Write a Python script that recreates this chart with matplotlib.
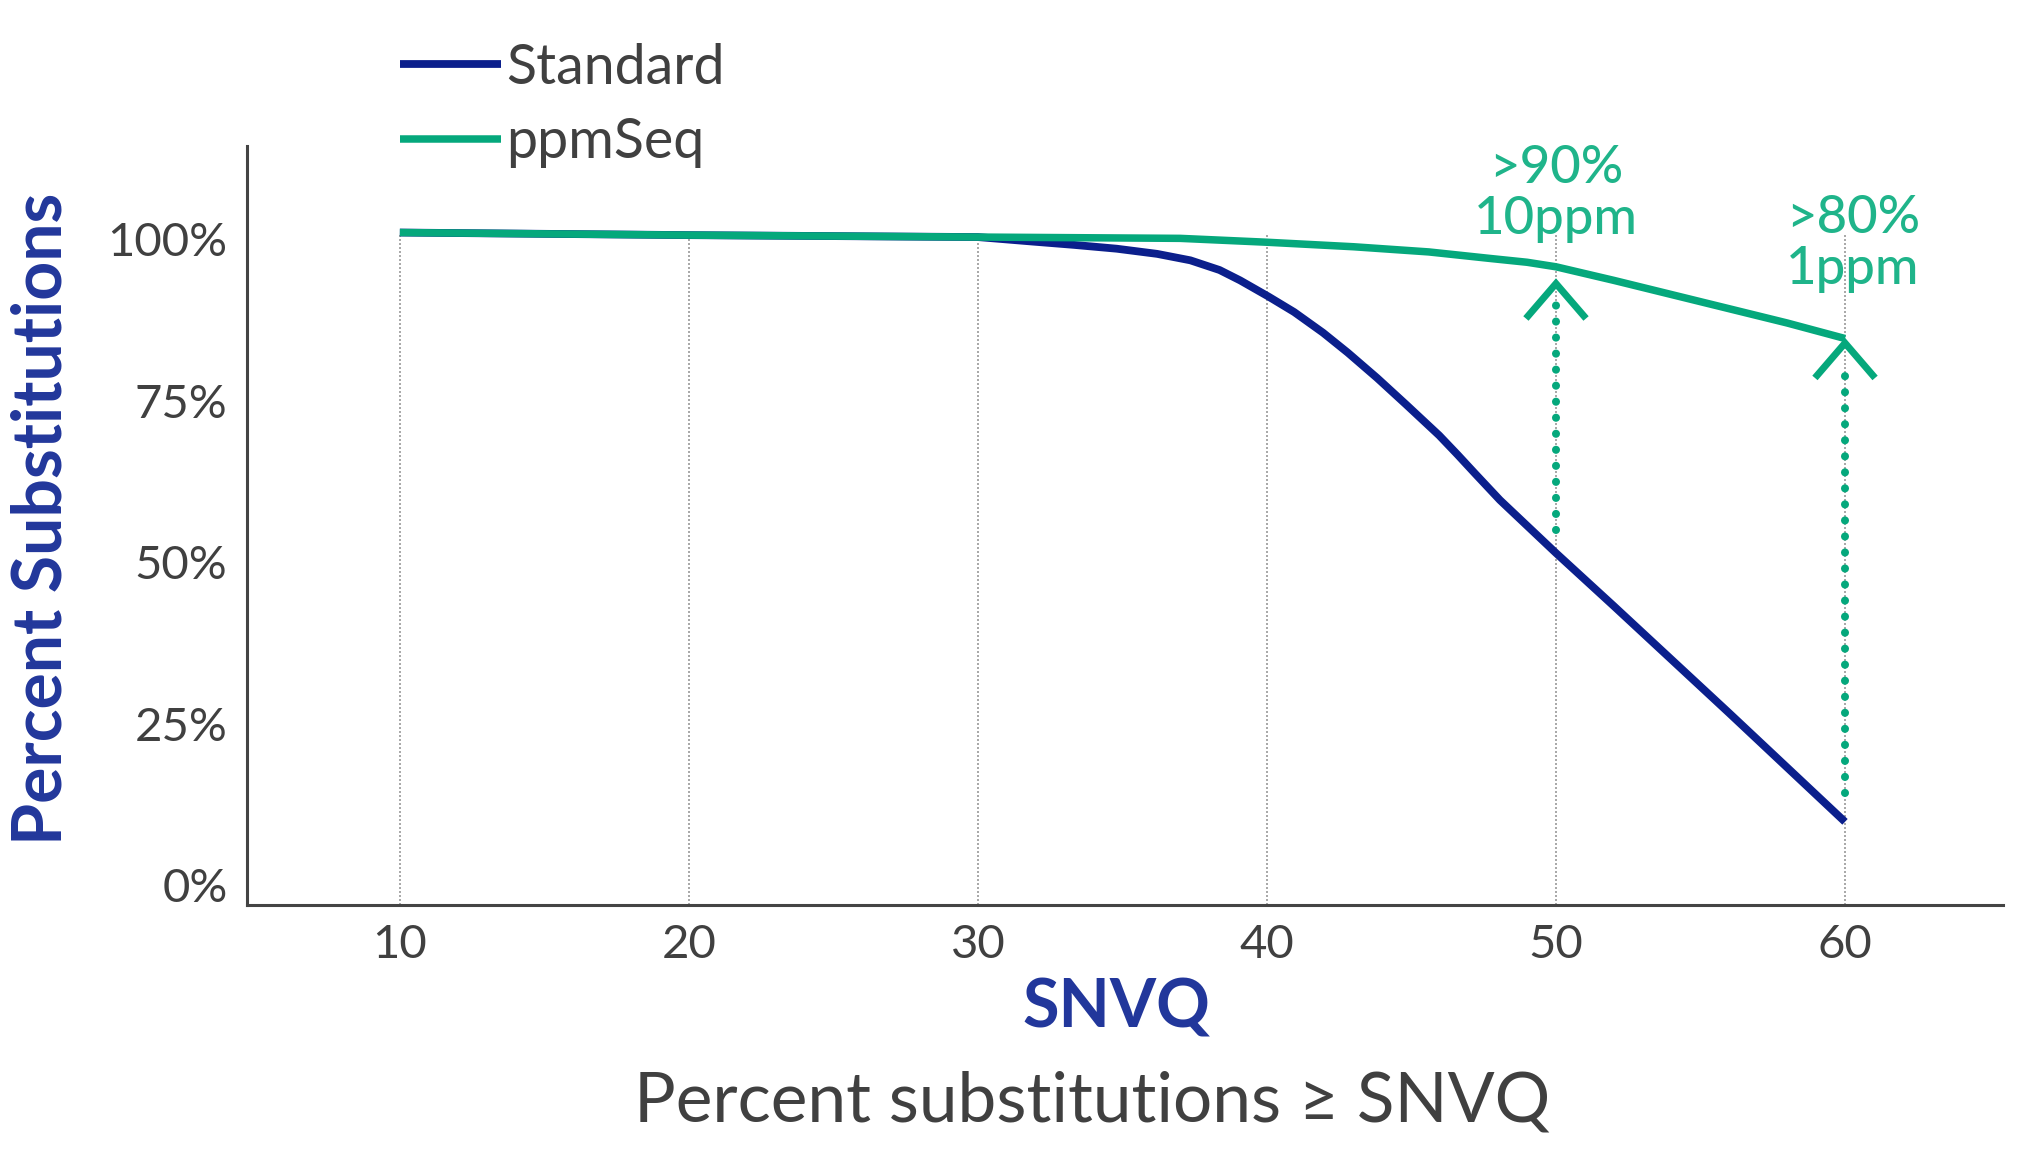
import matplotlib
matplotlib.use("Agg")
import matplotlib.pyplot as plt

plt.rcParams['font.family'] = ['Lato', 'DejaVu Sans']

# ---- data ----
snvq_std = [10, 20, 30, 31.9, 33.3, 34.8, 36.2, 37.35, 38.36, 39.07, 40.05, 40.94, 41.94,
            42.8, 43.81, 44.81, 45.96, 46.6, 47.2, 48.06, 50, 52, 54, 56, 58, 60]
pct_std = [101.0, 100.6, 100.3, 99.6, 99.1, 98.5, 97.7, 96.7, 95.2, 93.6, 91.1, 88.7, 85.5,
           82.4, 78.5, 74.4, 69.6, 66.6, 63.7, 59.6, 51.4, 43.2, 34.9, 26.6, 18.2, 9.8]

snvq_ppm = [10, 20, 30, 37, 40, 43, 45.6, 47.7, 49, 50, 52, 54, 56, 58, 60]
pct_ppm = [101.0, 100.6, 100.3, 100.1, 99.5, 98.8, 98.0, 97.0, 96.4, 95.7, 93.6, 91.4, 89.2, 87.0, 84.6]

x_ticks = [10, 20, 30, 40, 50, 60]
y_ticks = [0, 25, 50, 75, 100]
y_tick_labels = ['0%', '25%', '50%', '75%', '100%']

series_names = ['Standard', 'ppmSeq']

arrow_x = [50, 60]
arrow_tip = [93.1, 83.9]
arrow_bottom = [55.0, 14.2]
arrow_texts = ['>90%\n10ppm', '>80%\n1ppm']
arrow_text_x = [50.0, 60.27]
arrow_text_y = [107.0, 99.2]

# ---- style ----
BLUE = '#0b1f8c'
GREEN = '#05a87c'
GREEN_TXT = '#1fb48a'
LABEL_BLUE = '#22379b'
GRAY = '#404040'

fig = plt.figure(figsize=(20.26, 11.52), dpi=100)
ax = fig.add_axes([0.1219, 0.2148, 0.8668, 0.6585])
ax.set_xlim(4.71, 65.47)
ax.set_ylim(-3.0, 114.4)

for s in ['top', 'right']:
    ax.spines[s].set_visible(False)
for s in ['left', 'bottom']:
    ax.spines[s].set_color('#444444')
    ax.spines[s].set_linewidth(2.2)

# vertical gridlines
ax.vlines(x_ticks, -3.0, 100.8, colors='#9a9a9a', linestyles=(0, (1.2, 1.2)), linewidth=1.2, zorder=1)

l_std, = ax.plot(snvq_std, pct_std, color=BLUE, lw=5.6, solid_capstyle='butt',
                 solid_joinstyle='round', zorder=3, label=series_names[0])
l_ppm, = ax.plot(snvq_ppm, pct_ppm, color=GREEN, lw=5.4, solid_capstyle='butt',
                 solid_joinstyle='round', zorder=4, label=series_names[1])

# arrows
half_w = 1.04
head_h = 5.4
for xa, tip, bot in zip(arrow_x, arrow_tip, arrow_bottom):
    ax.plot([xa, xa], [bot, tip - 2.8], color=GREEN, lw=5.8,
            linestyle=(0, (0.01, 1.98)), dash_capstyle='round', zorder=5)
    ax.plot([xa - half_w, xa, xa + half_w], [tip - head_h, tip, tip - head_h],
            color=GREEN, lw=5.0, solid_joinstyle='miter', solid_capstyle='butt', zorder=5)
for tx, ty, txt in zip(arrow_text_x, arrow_text_y, arrow_texts):
    ax.text(tx, ty, txt, ha='center', va='center', color=GREEN_TXT,
            fontsize=38, linespacing=1.1, fontweight='medium')

ax.set_xticks(x_ticks)
ax.set_xticklabels([str(t) for t in x_ticks])
ax.set_yticks(y_ticks)
ax.set_yticklabels(y_tick_labels)
ax.tick_params(axis='both', length=0, labelsize=34, colors=GRAY)
ax.tick_params(axis='x', pad=14)
ax.tick_params(axis='y', pad=14)

ax.set_ylabel('Percent Substitutions', fontsize=49, fontweight='bold', color=LABEL_BLUE)
ax.yaxis.label.set_va('center')
ax.yaxis.set_label_coords(-0.117, 0.508)
ax.set_xlabel('SNVQ', fontsize=48, fontweight='bold', color=LABEL_BLUE)
ax.xaxis.label.set_va('center')
ax.xaxis.set_label_coords(0.495, -0.1364)

fig.text(0.539, 0.0434, 'Percent substitutions \u2265 SNVQ', ha='center', va='center',
         fontsize=50, color=GRAY)

leg = ax.legend(handles=[l_std, l_ppm], loc='upper left', bbox_to_anchor=(0.1974, 0.963),
                bbox_transform=fig.transFigure, frameon=False, fontsize=40,
                handlelength=1.82, handletextpad=0.1, labelspacing=0.42, borderpad=0,
                borderaxespad=0)
for t in leg.get_texts():
    t.set_color(GRAY)

fig.savefig('out.png', dpi=100)
